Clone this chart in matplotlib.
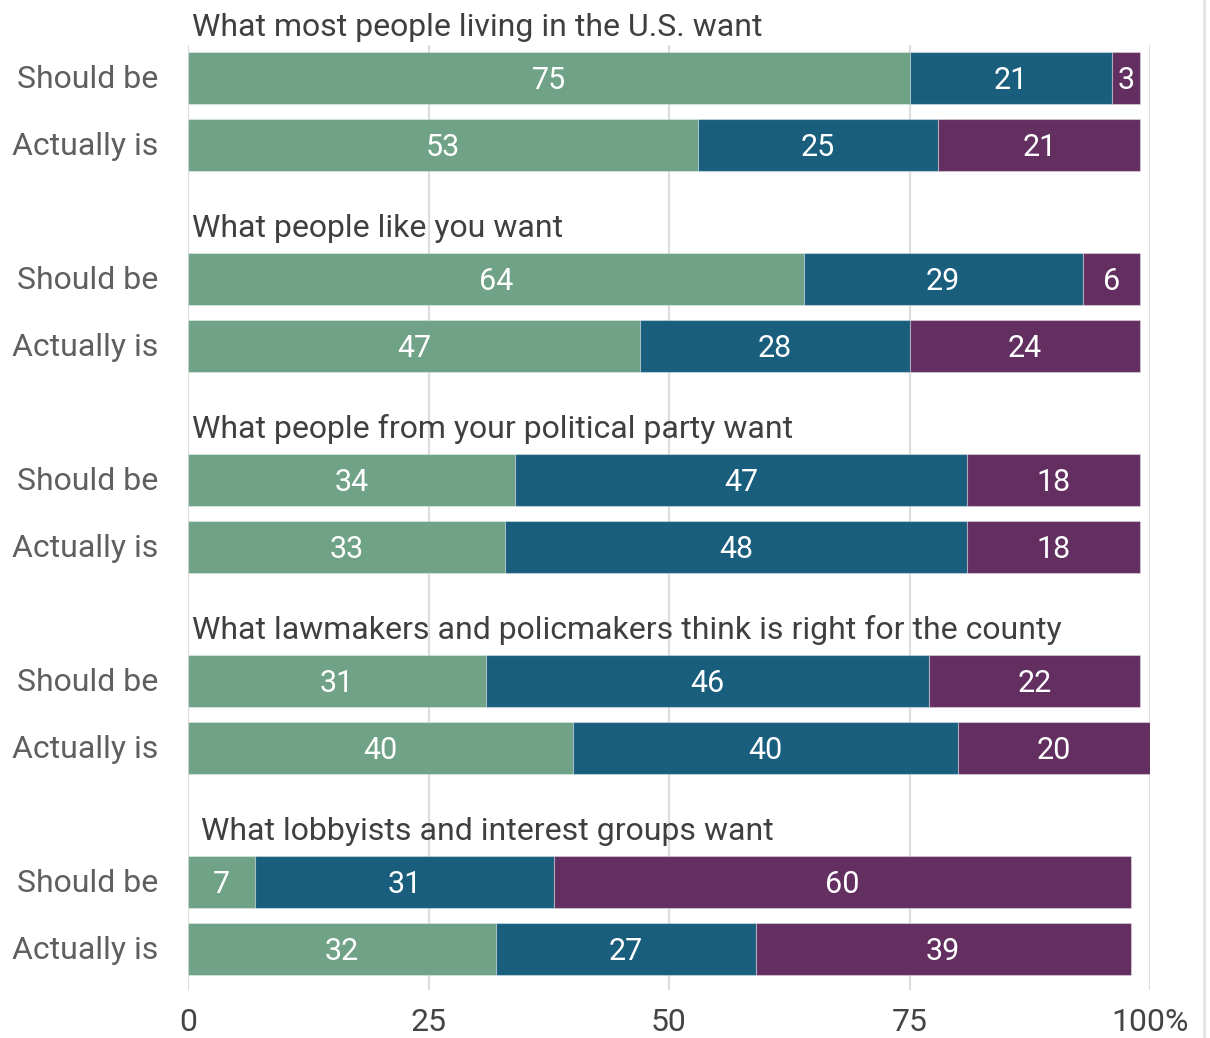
import matplotlib.pyplot as plt
import numpy as np

plt.rcParams['font.family'] = ['Roboto', 'DejaVu Sans']

groups = [
    "What most people living in the U.S. want",
    "What people like you want",
    "What people from your political party want",
    "What lawmakers and policmakers think is right for the county",
    "What lobbyists and interest groups want",
]
rows = ["Should be", "Actually is"]

# values per group: [should be, actually is], each split into three parts
green = [[75, 53], [64, 47], [34, 33], [31, 40], [7, 32]]
blue = [[21, 25], [29, 28], [47, 48], [46, 40], [31, 27]]
purple = [[3, 21], [6, 24], [18, 18], [22, 20], [60, 39]]

colors = ["#6fa287", "#1a5e7e", "#632f61"]
ticks = [0, 25, 50, 75, 100]
tick_labels = ["0", "25", "50", "75", "100%"]

W, H = 1210, 1038
fig = plt.figure(figsize=(W / 100, H / 100), dpi=100)
# axes placed in pixel units of the figure
left, right, top, bottom = 188, 1150, 45, 990
ax = fig.add_axes([left / W, 1 - bottom / H, (right - left) / W, (bottom - top) / H])
ax.set_xlim(0, 100)
ax.set_ylim(bottom, top)

group_step = 201
bar_step = 67
first = 78
bar_h = 52

for i, title in enumerate(groups):
    for j, row in enumerate(rows):
        y = first + i * group_step + j * bar_step
        start = 0
        for series, c in zip([green, blue, purple], colors):
            v = series[i][j]
            ax.barh(y, v, left=start, height=bar_h, color=c,
                    edgecolor=(1, 1, 1, 0.35), linewidth=0.8, zorder=2)
            ax.text(start + v / 2, y + 2, str(v), ha="center", va="center",
                    color="white", fontsize=22, zorder=3)
            start += v
        ax.text(-3.1, y + 1, row, ha="right", va="center", color="#5f5f5f",
                fontsize=23, clip_on=False)
    ty = first + i * group_step - 51
    tx = 1.3 if i == 4 else 0.4
    ax.text(tx, ty, title, ha="left", va="center", color="#3f3f3f",
            fontsize=23, zorder=3)

for t in ticks:
    ax.axvline(t, color="#dddddd", linewidth=1.6, zorder=1)

ax.set_xticks(ticks)
ax.set_xticklabels(tick_labels, fontsize=23, color="#444444")
ax.tick_params(axis="x", length=0, pad=13)
ax.set_yticks([])
for s in ax.spines.values():
    s.set_visible(False)

# thin border line on the right edge
fig.add_artist(plt.Line2D([1204 / W, 1204 / W], [0, 1], color="#e3e3e3",
                          linewidth=2, transform=fig.transFigure))

fig.savefig("out.png", dpi=100)
